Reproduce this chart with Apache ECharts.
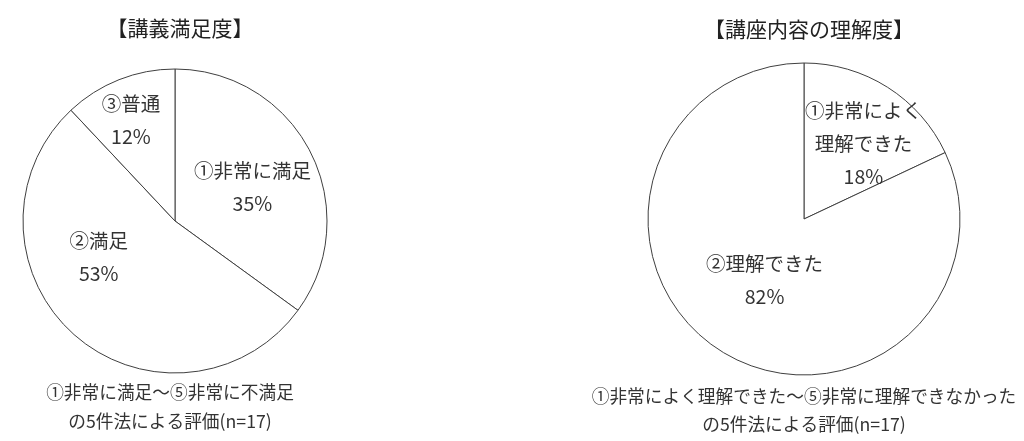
<!DOCTYPE html>
<html><head><meta charset="utf-8">
<script src="https://cdn.jsdelivr.net/npm/echarts@6/dist/echarts.min.js"></script>
<style>html,body{margin:0;padding:0;background:#fff;}#c{width:1024px;height:441px;}</style>
</head><body><div id="c"></div>
<script>
const leftTitle = '【講義満足度】';
const leftCategories = ['①非常に満足', '②満足', '③普通'];
const leftValues = [35, 53, 12];
const leftNote = '①非常に満足～⑤非常に不満足\nの5件法による評価(n=17)';

const rightTitle = '【講座内容の理解度】';
const rightCategories = ['①非常によく\n理解できた', '②理解できた'];
const rightValues = [18, 82];
const rightNote = '①非常によく理解できた～⑤非常に理解できなかった\nの5件法による評価(n=17)';

const FONT = '"Noto Sans CJK JP", "Noto Sans", sans-serif';
const TXT = '#333333';
const leftShift = [[7, 2], [-24, -23], [-15, -27]];
const rightShift = [[16, -7], [4, -7]];

function toData(cats, vals) { return cats.map((c, i) => ({ name: c, value: vals[i] })); }

function pie(cats, vals, center, radius, shift) {
  return {
    type: 'pie', center: center, radius: radius, startAngle: 90, clockwise: true,
    avoidLabelOverlap: false, silent: true, animation: false,
    itemStyle: { color: '#ffffff', borderColor: '#404040', borderWidth: 1 },
    label: {
      show: true, position: 'inside', formatter: p => p.name + '\n' + p.value + '%',
      color: TXT, fontSize: 19.5, lineHeight: 33, fontFamily: FONT, align: 'center'
    },
    labelLine: { show: false },
    emphasis: { disabled: true },
    labelLayout: p => ({ dx: shift[p.dataIndex][0], dy: shift[p.dataIndex][1] }),
    data: toData(cats, vals)
  };
}

const chart = echarts.init(document.getElementById('c'), null, { renderer: 'canvas' });
chart.setOption({
  backgroundColor: '#ffffff',
  animation: false,
  title: [
    { text: leftTitle, left: 175, top: 9, textAlign: 'center',
      textStyle: { fontSize: 21, fontWeight: 'normal', color: '#222', fontFamily: FONT, lineHeight: 28 } },
    { text: rightTitle, left: 804, top: 10, textAlign: 'center',
      textStyle: { fontSize: 21, fontWeight: 'normal', color: '#222', fontFamily: FONT, lineHeight: 28 } },
    { text: leftNote, left: 165, top: 373, textAlign: 'center',
      textStyle: { fontSize: 17.7, fontWeight: 'normal', color: TXT, fontFamily: FONT, lineHeight: 29, align: 'center' } },
    { text: rightNote, left: 799, top: 377, textAlign: 'center',
      textStyle: { fontSize: 17.7, fontWeight: 'normal', color: TXT, fontFamily: FONT, lineHeight: 28, align: 'center' } }
  ],
  series: [
    pie(leftCategories, leftValues, [175, 221], 152, leftShift),
    pie(rightCategories, rightValues, [804, 219], 156, rightShift)
  ]
});
</script></body></html>
